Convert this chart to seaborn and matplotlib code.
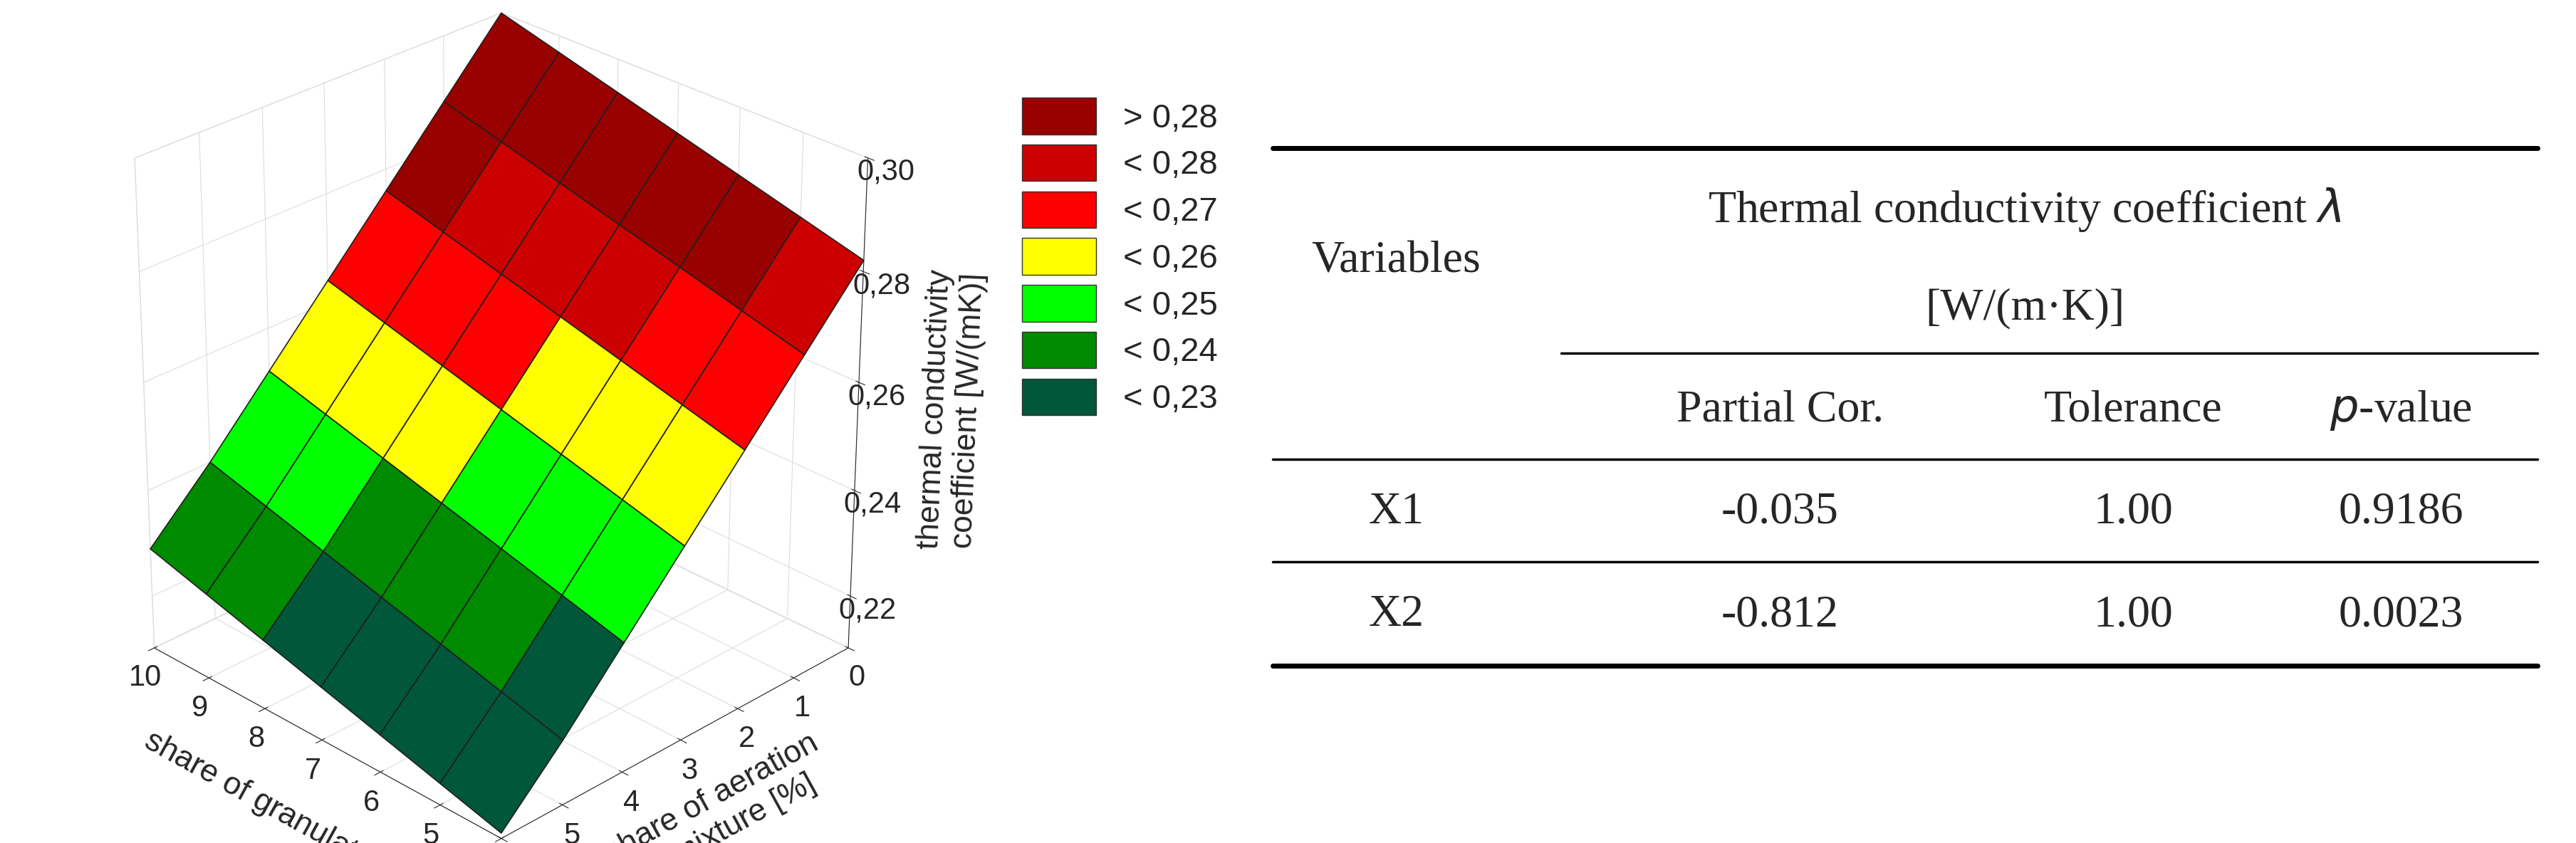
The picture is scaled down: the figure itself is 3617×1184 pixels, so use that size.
import matplotlib.pyplot as plt
import matplotlib.colors as mcolors
from matplotlib.patches import Patch
from matplotlib.lines import Line2D
import numpy as np
import seaborn as sns

# data
granulate = [4, 5, 6, 7, 8, 9, 10]
aeration = [0, 1, 2, 3, 4, 5, 6]
# lambda[granulate_i][aeration_j]
lam = [
    [0.282, 0.270, 0.258, 0.246, 0.234, 0.222, 0.211],
    [0.285, 0.273, 0.261, 0.249, 0.237, 0.225, 0.214],
    [0.288, 0.276, 0.264, 0.252, 0.240, 0.228, 0.217],
    [0.291, 0.279, 0.267, 0.255, 0.243, 0.231, 0.220],
    [0.294, 0.282, 0.270, 0.258, 0.246, 0.234, 0.223],
    [0.297, 0.285, 0.273, 0.261, 0.249, 0.237, 0.226],
    [0.300, 0.288, 0.276, 0.264, 0.252, 0.240, 0.229],
]
levels = [0.20, 0.23, 0.24, 0.25, 0.26, 0.27, 0.28, 0.32]
level_colors = ['#00573a', '#008a00', '#00ff00', '#ffff00', '#ff0000', '#cc0000', '#990000']
legend_labels = ['> 0,28', '< 0,28', '< 0,27', '< 0,26', '< 0,25', '< 0,24', '< 0,23']

table_cols = ['Partial Cor.', 'Tolerance', '$p$-value']
table_rows = ['X1', 'X2']
table_vals = [['-0.035', '1.00', '0.9186'], ['-0.812', '1.00', '0.0023']]

sns.set_style('white')
plt.rcParams['font.family'] = ['Liberation Sans', 'DejaVu Sans']

fig = plt.figure(figsize=(36.17, 11.84), dpi=100)
ax = fig.add_axes([-0.02, -0.02, 0.42, 1.04], projection='3d')

G, A = np.meshgrid(granulate, aeration, indexing='ij')
Z = np.array(lam)
cmap = mcolors.ListedColormap(level_colors)
norm = mcolors.BoundaryNorm(levels, cmap.N)
# colour each facet by its mean value
fc = cmap(norm((Z[:-1, :-1] + Z[1:, 1:] + Z[:-1, 1:] + Z[1:, :-1]) / 4))
ax.plot_surface(G, A, Z, facecolors=fc, edgecolor='#202020', linewidth=1.2, shade=False)

ax.view_init(elev=28, azim=135)
ax.set_xlim(4, 10)
ax.set_ylim(0, 6)
ax.set_zlim(0.21, 0.30)
ax.set_zticks([0.22, 0.24, 0.26, 0.28, 0.30])
ax.set_zticklabels(['0,22', '0,24', '0,26', '0,28', '0,30'])
ax.tick_params(labelsize=30)
for a in (ax.xaxis, ax.yaxis, ax.zaxis):
    a.pane.fill = False
    a.pane.set_edgecolor('#cccccc')
    a._axinfo['grid']['color'] = '#dddddd'
ax.set_xlabel('share of granulate [%]', fontsize=32, labelpad=30)
ax.set_ylabel('share of aeration\nadmixture [%]', fontsize=32, labelpad=30)
ax.set_zlabel('thermal conductivity\ncoefficient [W/(mK)]', fontsize=32, labelpad=40)
ax.set_box_aspect((1, 1, 1.1))

handles = [Patch(facecolor=c, edgecolor='#333333') for c in level_colors[::-1]]
fig.legend(handles, legend_labels, loc='upper left', bbox_to_anchor=(0.385, 0.92),
           frameon=False, fontsize=34, handlelength=2.2, handleheight=1.3, labelspacing=0.3)

# table
serif = ['Liberation Serif', 'DejaVu Serif']
fs = 46
x0, x1, xi = 0.494, 0.985, 0.606
col_x = [0.691, 0.828, 0.932]
fig.add_artist(Line2D([x0, x1], [0.824, 0.824], color='black', lw=5))
fig.add_artist(Line2D([xi, x1], [0.581, 0.581], color='black', lw=2.5))
fig.add_artist(Line2D([x0, x1], [0.455, 0.455], color='black', lw=2.5))
fig.add_artist(Line2D([x0, x1], [0.334, 0.334], color='black', lw=2.5))
fig.add_artist(Line2D([x0, x1], [0.21, 0.21], color='black', lw=5))
fig.text(0.786, 0.751, r'Thermal conductivity coefficient $\lambda$', ha='center', va='center', fontsize=fs, family=serif)
fig.text(0.786, 0.634, '[W/(m·K)]', ha='center', va='center', fontsize=fs, family=serif)
fig.text(0.542, 0.69, 'Variables', ha='center', va='center', fontsize=fs, family=serif)
for x, c in zip(col_x, table_cols):
    fig.text(x, 0.513, c, ha='center', va='center', fontsize=fs, family=serif)
for y, r, vals in zip([0.392, 0.27], table_rows, table_vals):
    fig.text(0.542, y, r, ha='center', va='center', fontsize=fs, family=serif)
    for x, v in zip(col_x, vals):
        fig.text(x, y, v, ha='center', va='center', fontsize=fs, family=serif)

fig.savefig('out.png', dpi=100)
